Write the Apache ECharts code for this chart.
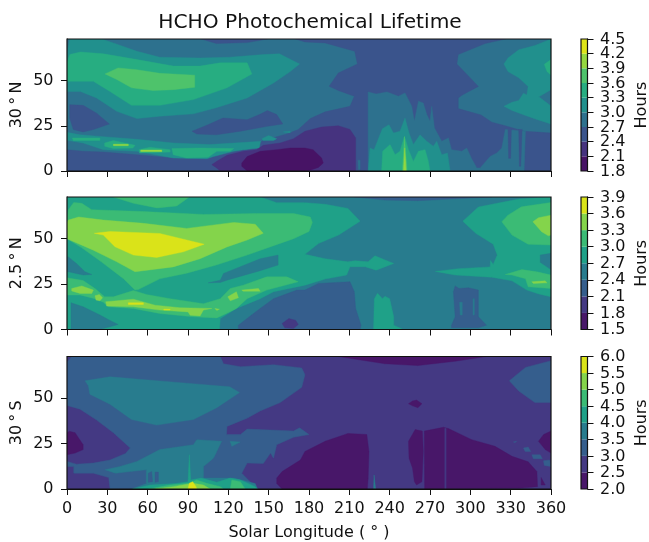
<!DOCTYPE html>
<html><head><meta charset="utf-8">
<style>html,body{margin:0;padding:0;background:#fff}#c{width:649px;height:542px}</style>
<script src="https://cdn.jsdelivr.net/npm/echarts@6/dist/echarts.min.js"></script>
</head><body><div id="c"></div>
<script>
// ---------- axis and level data ----------
const title = "HCHO Photochemical Lifetime";
const xLabel = "Solar Longitude ( ° )";
const colorbarLabel = "Hours";
const panelNames = ["30\u2009°\u2009N", "2.5\u2009°\u2009N", "30\u2009°\u2009S"];
const yTicks = [0, 25, 50];
const xInterval = 30;
const xMax = 360;
const yMax = 73;
const levels1 = [1.8, 2.1, 2.4, 2.7, 3.0, 3.3, 3.6, 3.9, 4.2, 4.5];
const levels2 = [1.5, 1.8, 2.1, 2.4, 2.7, 3.0, 3.3, 3.6, 3.9];
const levels3 = [2.0, 2.5, 3.0, 3.5, 4.0, 4.5, 5.0, 5.5, 6.0];
const colors9 = ["#471365", "#46337f", "#3a548c", "#2d718e", "#21908d", "#27ad81", "#4ec36b", "#95d840", "#dde318"];
const colors8 = ["#481769", "#443983", "#355e8d", "#287c8e", "#1fa188", "#3bbb75", "#84d44b", "#dae319"];

// ---------- contour bands: [solar longitude, altitude] ----------
// Panel 1 (30 N)
const a_c2_main = [[170,73],[326,73],[311,70.5],[291,64.4],[290,59.2],[306,46.8],[294,42],[291,40.4],[291,34.5],[308,31],[316,27],[326,25],[340,22],[350,21.5],[360,21],[360,0],[0,0],[0,11.8],[12,10.9],[27,10.5],[52,9],[79,7.2],[104,6.8],[121,11],[134,11.8],[146,16.8],[163.5,20.5],[172,22.9],[181,29],[192,32.7],[210.5,35.8],[213.7,41.3],[201.8,44.5],[195,46.9],[201.8,54.2],[216,59.2],[214,66.2],[192,70.8],[177,71.4]];
const a_c2_sliver = [[100,73],[111,70.5],[134,71],[149,73]];
const a_c2_blobL = [[2,36.7],[12,36.3],[22,32],[31.5,26],[19.6,22.9],[12,21.6],[4.7,22.9],[2,29.3]];
const a_c2_blobC = [[93,22],[104,25.3],[116,29.3],[134,28.4],[144,31.5],[149,33.4],[156,31.2],[160.5,26],[149,24.7],[129,22],[111,20],[96.5,20.5]];
const a_c4_upper = [[2,73],[26,73],[34.5,70.8],[52,66.2],[69,62.9],[99,62.5],[121,62.9],[146,64.4],[158,64.8],[173,59.2],[166,55],[153.6,48.7],[134,40.4],[111,35],[94,31.6],[69,30.3],[52,29],[37,33],[22,40.4],[10,44],[0,44],[0,65]];
const a_c5_upper = [[2,64.4],[10,65.8],[27,64.8],[52,61.6],[79,58],[99,58],[114,59.8],[134,59.8],[137.5,53.7],[119,46],[94,39.5],[69,36.3],[48,36.3],[32,44],[19.6,49.6],[0,49.6],[0,60]];
const a_c6_upper = [[28.3,53.7],[38,57],[52,56],[69,54],[95,53],[95,46.3],[79,45],[64,44.5],[48,46],[37,50.6]];
const a_c4_band = [[0,21.4],[9.7,20],[27,19],[52,17.5],[79,15.5],[106,14.6],[136,16],[144,16.5],[143,12.7],[131,11.8],[124,10.9],[109,8],[104,6.8],[79,7.2],[52,10.9],[27,11.8],[12,15.5],[0,17]];
const a_c4_spotA = [[145,17.9],[150,19.6],[156,17.9],[153.6,16.8],[146,16.8]];
const a_c4_spotB = [[161,21.6],[166,22],[166,21.2]];
const a_c5_patchA = [[28,15.5],[34.5,16.8],[50.6,14.2],[49,12.7],[34.5,12.4],[28,13.7]];
const a_c5_patchL = [[4,18.3],[24.5,18.3],[24.5,16.8],[4.7,16.8]];
const a_c5_patchB = [[53.6,11.8],[61.8,13.1],[76.7,11.8],[76.7,10.5],[54,10]];
const a_c5_patchC = [[78,12.4],[99,12.7],[124,12.4],[121.4,10.9],[111.4,10.9],[105,7.6],[89,7.2],[79,9]];
const a_c6_tinyA = [[34.5,14.8],[45.6,14.8],[45.6,14],[34.5,14]];
const a_c6_tinyB = [[54.8,11.6],[70.5,11.6],[70.5,10.7],[54.8,10.7]];
const a_c1 = [[114,0],[111.4,1.7],[107.7,3.5],[111.4,5.4],[119,8.7],[131,10.9],[141,11.8],[146,14.2],[158.6,15.5],[168.5,17.9],[177,22],[189.4,24.3],[201.8,25],[210.5,23],[214.7,18.3],[214.7,0]];
const a_c0 = [[130,4.4],[134,8],[143.7,10.9],[156,11.8],[166,12.7],[177,12.7],[183,11.8],[189.4,7.2],[190.6,4.4],[187,2],[182,0.7],[177,0],[134,0],[130,2.6]];
const a_c3_spikes = [[224,0],[224,43.7],[230,42.6],[238,43.7],[246.5,41.3],[251.4,43.2],[256.4,35.8],[258.4,27.5],[261.4,38.6],[265,37.6],[267.6,31.2],[270,27.5],[271.3,35.8],[273.3,23.8],[278.7,16.4],[283.7,18.3],[286,11.8],[293.6,10.9],[297.3,12.7],[301,6.8],[304.8,1.7],[307.3,1.7],[314.7,8],[319.7,10],[323.4,12.7],[326,23],[341,22],[340,0]];
const a_c3_spot = [[216.5,6],[218,6],[218,0.8],[216.8,0.8]];
const a_c2_slitA = [[328,23],[330.5,23],[330,7],[328.5,7]];
const a_c2_slitB = [[336,23],[338.5,23],[337.5,2.6],[336.5,2.6]];
const a_c4_spikes = [[224,0],[225.4,12.7],[228.4,11.8],[232.8,20],[234.6,23.4],[239.5,25.6],[242.8,21],[247.7,22],[251.4,29.3],[254.4,21],[257.6,14.6],[262.6,20],[267.6,16.4],[272.5,13.7],[275,16.4],[278.7,9],[283,10],[285,0]];
const a_c5_spikes = [[234,0],[234.8,10.9],[240.3,14.6],[244,9],[247.7,10.9],[251,19.2],[254,11.8],[257.6,5.3],[261.4,10.9],[266.3,11.8],[268.8,5.3],[270,0]];
const a_c6_spike = [[249.5,0],[251,19],[253,0]];
const a_c7_spike = [[250.3,0],[251.2,12.7],[252.2,0]];
const a_c4_right = [[360,73],[348,69.4],[336,67],[328,62.5],[325,59.2],[328,55],[336,51.6],[343,46.8],[342,42],[339.5,43],[336,39],[331,38],[325,35.8],[331,33.5],[340,31],[350,28.4],[360,26],[360,36],[351,41],[360,45]];
const a_c5_right = [[360,61.6],[355,59],[357,55],[360,53]];
const layers1 = [[2,a_c2_main],[2,a_c2_sliver],[2,a_c2_blobL],[2,a_c2_blobC],[4,a_c4_upper],[5,a_c5_upper],[6,a_c6_upper],[4,a_c4_band],[4,a_c4_spotA],[4,a_c4_spotB],[5,a_c5_patchA],[5,a_c5_patchL],[5,a_c5_patchB],[5,a_c5_patchC],[7,a_c6_tinyA],[7,a_c6_tinyB],[1,a_c1],[0,a_c0],[3,a_c3_spikes],[3,a_c3_spot],[2,a_c2_slitA],[2,a_c2_slitB],[4,a_c4_spikes],[5,a_c5_spikes],[6,a_c6_spike],[7,a_c7_spike],[4,a_c4_right],[5,a_c5_right]];

// Panel 2 (2.5 N)
const b_d4_main = [[0,73],[143.7,73],[156,69.9],[177,69.9],[192,69],[209,66.7],[218,59.7],[202,52],[187,47.4],[177,41.4],[192,39],[209,37.3],[214,37.9],[224,37.3],[229,40.6],[243,36.4],[230,32.7],[221.7,34.6],[210.5,34.6],[208,30],[192,27.8],[177,24.4],[153.6,20.8],[143.7,17],[126,11.6],[114,6],[113.4,0],[0,0]];
const b_d4_right = [[360,73],[336,71.9],[306,67.5],[294.4,59.7],[304,53],[317,47],[320,41],[317,35.8],[315,38],[314.7,34.5],[291,33.5],[274,32],[288.7,30],[316,28.8],[331,26.8],[342,21.7],[351,19.6],[360,18]];
const b_d3_blobBL = [[3,14.7],[12,12.5],[24.5,8],[32,5],[38,2.8],[32,1.5],[24.5,0],[3,0]];
const b_d3_blobL = [[0,40],[1,40],[7,36.4],[13.4,31.8],[18.4,30.3],[12,30],[1,31.8],[0,32]];
const b_d3_blobC = [[105,25.7],[114,27.2],[116.4,30.9],[143.7,39],[157,41],[157,35.5],[143.7,32.4],[119,27.2],[114,25.9]];
const b_d3_blobR = [[352,41],[360,42],[360,33],[352,37]];
const b_d2_top = [[214,73],[236.5,71.3],[261,71],[288.7,72],[316,73]];
const b_d5_top = [[34.5,73],[91,73],[81.6,68],[67,67],[49.4,69.5]];
const b_d5_outer = [[0,61],[1,66],[5,70],[11,69.5],[18.4,66],[56.8,65],[101.5,63.4],[141,63.9],[168.5,63.9],[181,62],[182.5,59],[180,54],[168.5,50],[151,45.5],[134,41],[111,35.5],[89,31],[69,27.9],[53,22],[50.6,21.7],[42,28],[26,37],[11,45],[0,50]];
const b_d6_outer = [[0,59],[1,60.3],[8.7,62],[27,60.3],[56.8,58.5],[89,55.7],[124,59],[140,58],[146,53],[134,49.3],[119,45.5],[99,39],[79,34.5],[50.6,31.8],[37,37.3],[19.6,43.7],[0,50]];
const b_d7_core = [[20.3,53],[32,54],[69,52.9],[102,47],[86.6,42.8],[66.7,39.7],[49.4,41],[35.7,45.6],[27,52]];
const b_d5_band = [[0,28.5],[12,27],[20.8,22.6],[28,18],[34.5,18],[49.4,21.5],[59,19.3],[76.7,17],[101.5,14.2],[114,17],[121.4,22.6],[131,24.4],[148.6,29],[163.5,29],[172,26.3],[148.6,21.7],[134,17],[126,11.6],[119,9],[111.4,6.4],[94,7],[69,8.8],[49.4,11.6],[30.8,12.5],[27,15],[20.8,17],[9.7,19],[0,19]];
const b_d5_right = [[360,70],[338,67.6],[328,63],[323.4,59.4],[331,52],[343,47],[360,46.5]];
const b_d6_right = [[360,63],[350.7,61.6],[346.5,59.4],[353,53.9],[358,51.6],[360,52]];
const b_d5_lowR = [[326,30.3],[338.3,33],[349.5,31.8],[360,30],[360,22.6],[343,23.5],[341,28],[331,30]];
const b_d6_lowR = [[345.7,26.3],[355.7,26.8],[357,25.7],[347,25.4]];
const b_d6_a = [[3.5,22.6],[11,24],[19.6,21.7],[18.4,19.9],[9.7,19.9],[3.5,21.2]];
const b_d6_b = [[20.8,18.6],[24,19.3],[26.5,17.5],[24.5,15.8],[21.6,16.2]];
const b_d6_c = [[28.8,15.3],[49.4,16.7],[65.5,13.4],[84,12],[107.7,11.6],[101.5,10.7],[99,7.5],[91.6,7.9],[90,9.7],[69,10.7],[49.4,12.5],[29.5,12.9]];
const b_d6_d = [[110,11.6],[113.4,11.2],[111.4,10.5]];
const b_d6_e = [[119.6,18],[126,20.8],[127.5,17.5],[121.4,15.8]];
const b_d6_f = [[130,21.7],[142.4,22.6],[143.7,21.1],[131,21.1]];
const b_d7_a = [[45.6,14.7],[56.8,14.7],[56.8,13.8],[45.6,13.8]];
const b_d7_b = [[72,11.2],[76.7,11.2],[76.7,10.7],[72,10.7]];
const b_d2_main = [[127.5,2.4],[137.3,8],[143.7,11.6],[153.6,17],[171,21.7],[177,21.7],[187,25.4],[210.5,26.3],[213.7,20.8],[214.7,11.6],[218.7,2.4],[218,0],[127.5,0]];
const b_d1_spot = [[160,3.3],[165,6],[170,5.1],[172,2.8],[168.5,0.5],[162,0.9]];
const b_d4_column = [[228,0],[228.6,17],[231,20],[234.6,17],[236.5,18.3],[240,17],[243,7],[243,2.4],[249,0.4],[249,0]];
const b_d2_column = [[286,2.4],[288.7,7],[287.4,20.8],[288.7,24],[291.6,22.6],[298.6,23],[306,21.7],[306,13.5],[306,7],[312,2.4],[306,0.9],[286,0.9]];
const b_d3_slitA = [[292,15],[294,15],[294,8],[292.5,8]];
const b_d3_slitB = [[302,17],[303,17],[303,8],[302,8]];
const layers2 = [[4,b_d4_main],[4,b_d4_right],[3,b_d3_blobBL],[3,b_d3_blobL],[3,b_d3_blobC],[3,b_d3_blobR],[2,b_d2_top],[5,b_d5_top],[5,b_d5_outer],[6,b_d6_outer],[7,b_d7_core],[5,b_d5_band],[5,b_d5_right],[6,b_d6_right],[5,b_d5_lowR],[6,b_d6_lowR],[6,b_d6_a],[6,b_d6_b],[6,b_d6_c],[6,b_d6_d],[6,b_d6_e],[6,b_d6_f],[7,b_d7_a],[7,b_d7_b],[2,b_d2_main],[1,b_d1_spot],[4,b_d4_column],[2,b_d2_column],[3,b_d3_slitA],[3,b_d3_slitB]];

// Panel 3 (30 S)
const e_e2_main = [[3.5,73],[114,73],[116.4,69],[129,67.4],[153.6,68.5],[174.6,66.7],[177,63],[174.6,56],[158.6,47.6],[143.7,43],[134,39],[119,34.5],[118.7,30],[129,30],[134,33],[168.5,32],[173,33.7],[180,30],[168.5,28.5],[156,24.4],[153.6,17],[151.4,19.8],[146,14],[134,14.3],[130,8.7],[141,0.4],[32,0],[31,6.3],[19.6,8.7],[5,8.7],[5,12.4],[0,12.4],[0,15.2],[7,13.7],[19.6,14.3],[32,16],[43.5,19.6],[47,22.6],[34.5,31],[22,38],[9.7,44],[0,46],[0,70]];
const e_e2_right = [[360,70.7],[341,67],[329,59.6],[336,54],[348,47.6],[360,47.6]];
const e_e2_spotA = [[339.5,22.6],[343,23.1],[345,20.7],[340.8,20.7]];
const e_e2_spotB = [[345.7,18.9],[352,18.9],[353.6,16.7],[346.9,16.7]];
const e_e2_spotC = [[354.4,15.6],[359,16],[360,12.4],[355,13]];
const e_e2_spotD = [[332,25.9],[334.5,26.3],[333.3,25.6]];
const e_e3_upper = [[13.4,59.6],[32,61.8],[89,58.3],[121,56.3],[128.3,53.1],[111.4,44.8],[94,38.3],[66.7,35.2],[48,38.3],[32,46.7],[17,52.2],[15.9,56.9]];
const e_e3_lower = [[28.3,10.6],[39.4,12.4],[52,15.2],[69,21.7],[94,24.4],[96.5,27.2],[115,26.3],[111.4,20.7],[109,17],[101.5,12.4],[101.5,6],[124,6],[140,3],[141.7,0],[48,0],[59,3],[59,10.6],[47,9.6],[36,8.7]];
const e_e2_slitA = [[60.5,8.7],[63,9.6],[63.7,4],[60.5,3.7]];
const e_e2_slitB = [[65.5,9.3],[68,9.3],[68,4],[65.5,3.7]];
const e_e3_tick = [[121.3,26.3],[128.8,25.9],[122.6,23.5]];
const e_e3_spike = [[228,0],[228.4,7.8],[229.6,0]];
const e_e4 = [[49,0],[61.8,2.2],[80.4,3],[90,4],[91,18.9],[92,5],[100,6],[111.4,3.7],[121.4,6],[129,5],[140,1.3],[141.7,0]];
const e_e5a = [[60.5,0],[76.7,2.2],[90,3.1],[96.5,5],[104,3.1],[114,1.3],[116.4,0]];
const e_e5b = [[121.4,0],[122.6,5],[129,4],[132.5,0]];
const e_e6 = [[65.5,0],[79,1.3],[89,2.6],[94,3.1],[101.5,2.2],[106.5,0]];
const e_e7 = [[90,0],[91,3.1],[93.5,4],[96,1.3],[96.5,0]];
const e_e0_left = [[0,31],[1.7,31.8],[6,31],[12,24.4],[12,21.7],[6,19.8],[0,18.9]];
const e_e0_mid = [[156,3],[156,6],[160,9.6],[173.6,16],[177,20.7],[192,26.3],[209,30.6],[223,30],[224.6,20.7],[224,6],[223.4,0],[160,0]];
const e_e0_split = [[254,26.3],[259,32.8],[264.3,31.9],[265,20.7],[264,4],[260,2.2],[258.4,4],[257,11.5],[254.4,17]];
const e_e0_wide = [[265.8,31.9],[280,34],[283.7,33.3],[301,27.2],[318.4,23.5],[331,18],[343,15],[349.5,9.6],[350,1.3],[336,0.4],[266,0]];
const e_e1_slit = [[281,33.5],[282,33.5],[282,0],[281,0]];
const e_e0_right = [[350.7,26.3],[354.5,30],[360,31.9],[360,19.8],[355.7,21.7]];
const e_e0_corner = [[352.7,6.3],[355.7,2.2],[352.7,2.2]];
const e_e0_top = [[201.8,73],[236.5,69],[261,68],[288.7,70.4],[312,73]];
const e_e0_diamond = [[254,47],[257,48.5],[260,49],[264,47],[261,44.8],[257,45.8]];
const layers3 = [[2,e_e2_main],[2,e_e2_right],[2,e_e2_spotA],[2,e_e2_spotB],[2,e_e2_spotC],[2,e_e2_spotD],[3,e_e3_upper],[3,e_e3_lower],[2,e_e2_slitA],[2,e_e2_slitB],[3,e_e3_tick],[3,e_e3_spike],[4,e_e4],[5,e_e5a],[5,e_e5b],[6,e_e6],[7,e_e7],[0,e_e0_left],[0,e_e0_mid],[0,e_e0_split],[0,e_e0_wide],[1,e_e1_slit],[0,e_e0_right],[0,e_e0_corner],[0,e_e0_top],[0,e_e0_diamond]];

// ---------- chart ----------
const FONT = "DejaVu Sans";
const FS = 16;
const INK = "#111";
const panels = [
  {top: 39,  h: 132, base: 3, layers: layers1, levels: levels1, colors: colors9, interval: 0.3},
  {top: 197, h: 132.5, base: 3, layers: layers2, levels: levels2, colors: colors8, interval: 0.3},
  {top: 356.5, h: 132.5, base: 1, layers: layers3, levels: levels3, colors: colors8, interval: 0.5}
];
const grid = [], xAxis = [], yAxis = [], series = [];
panels.forEach((p, i) => {
  const g = 2 * i, cb = 2 * i + 1;
  grid.push({left: 67, width: 484, top: p.top, height: p.h, outerBoundsMode: "none"});
  grid.push({left: 581, width: 6.5, top: p.top, height: p.h, outerBoundsMode: "none"});
  xAxis.push({
    gridIndex: g, type: "value", min: 0, max: xMax, interval: xInterval,
    splitLine: {show: false},
    axisLine: {show: true, onZero: false, lineStyle: {color: INK, width: 1}},
    axisTick: {show: true, length: 6, lineStyle: {color: INK, width: 1}},
    axisLabel: {show: i === 2, color: INK, fontFamily: FONT, fontSize: FS, margin: 11.5, hideOverlap: false},
    name: i === 2 ? xLabel : "", nameLocation: "middle", nameGap: 36, nameMoveOverlap: false,
    nameTextStyle: {color: INK, fontFamily: FONT, fontSize: FS}
  });
  xAxis.push({gridIndex: cb, type: "value", min: 0, max: 1, show: false});
  yAxis.push({
    gridIndex: g, type: "value", min: 0, max: yMax,
    splitLine: {show: false},
    axisLine: {show: true, onZero: false, lineStyle: {color: INK, width: 1}},
    axisTick: {show: true, length: 6, customValues: yTicks, lineStyle: {color: INK, width: 1}},
    axisLabel: {color: INK, fontFamily: FONT, fontSize: FS, margin: 13.5, customValues: yTicks},
    name: panelNames[i], nameLocation: "middle", nameRotate: 90, nameGap: 42, nameMoveOverlap: false,
    nameTextStyle: {color: INK, fontFamily: FONT, fontSize: FS}
  });
  yAxis.push({
    gridIndex: cb, type: "value", position: "right",
    min: p.levels[0], max: p.levels[p.levels.length - 1], interval: p.interval,
    splitLine: {show: false},
    axisLine: {show: true, onZero: false, lineStyle: {color: INK, width: 1}},
    axisTick: {show: true, length: 6, lineStyle: {color: INK, width: 1}},
    axisLabel: {show: false},
    name: colorbarLabel, nameLocation: "middle", nameRotate: 90, nameGap: 46,
    nameTextStyle: {color: INK, fontFamily: FONT, fontSize: FS}
  });
  // filled contour bands, painted in order over a base band
  const all = [[p.base, [[0,0],[xMax,0],[xMax,yMax],[0,yMax]]]].concat(p.layers);
  series.push({
    type: "custom", xAxisIndex: g, yAxisIndex: g, coordinateSystem: "cartesian2d", silent: true, clip: true,
    data: all.map((l, k) => [l[1][0][0], l[1][0][1], k]),
    renderItem: (params, api) => {
      const l = all[params.dataIndex];
      const c = p.colors[l[0]];
      return {type: "polygon", shape: {points: l[1].map(pt => api.coord(pt))},
              style: {fill: c, stroke: c, lineWidth: 0.4}};
    },
    z: 2
  });
  // axes frame on top of the bands
  series.push({
    type: "custom", xAxisIndex: g, yAxisIndex: g, coordinateSystem: "cartesian2d", silent: true, clip: false,
    data: [[0, 0]],
    renderItem: (params, api) => {
      const a = api.coord([0, 0]), b = api.coord([xMax, yMax]);
      return {type: "rect", shape: {x: a[0], y: b[1], width: b[0] - a[0], height: a[1] - b[1]},
              style: {fill: "none", stroke: INK, lineWidth: 1.2}};
    },
    z: 5
  });
  // colour bar
  const bands = p.colors.map((c, k) => [p.levels[k], p.levels[k + 1], k]);
  series.push({
    type: "custom", xAxisIndex: cb, yAxisIndex: cb, coordinateSystem: "cartesian2d", silent: true,
    data: bands,
    renderItem: (params, api) => {
      const a = api.coord([0, api.value(0)]), b = api.coord([1, api.value(1)]);
      return {type: "rect", shape: {x: a[0], y: b[1], width: b[0] - a[0], height: a[1] - b[1]},
              style: {fill: p.colors[api.value(2)]}};
    },
    encode: {x: [], y: [0, 1]},
    z: 2
  });
  series.push({
    type: "custom", xAxisIndex: cb, yAxisIndex: cb, coordinateSystem: "cartesian2d", silent: true,
    data: [[0, p.levels[0]]],
    renderItem: (params, api) => {
      const a = api.coord([0, p.levels[0]]), b = api.coord([1, p.levels[p.levels.length - 1]]);
      return {type: "rect", shape: {x: a[0], y: b[1], width: b[0] - a[0], height: a[1] - b[1]},
              style: {fill: "none", stroke: INK, lineWidth: 1.2}};
    },
    z: 5
  });
  // colour bar tick labels: the levels overlap slightly, as in the reference, so all are drawn
  series.push({
    type: "custom", xAxisIndex: cb, yAxisIndex: cb, coordinateSystem: "cartesian2d", silent: true, clip: false,
    data: p.levels.map(v => [1, v]),
    renderItem: (params, api) => {
      const c = api.coord([1, api.value(1)]);
      return {type: "text", style: {text: Number(api.value(1)).toFixed(1), x: c[0] + 12.5, y: c[1] + 0.5,
              fill: INK, fontFamily: FONT, fontSize: FS, align: "left", verticalAlign: "middle"}};
    },
    z: 6
  });
});
const chart = echarts.init(document.getElementById("c"), null, {renderer: "canvas"});
chart.setOption({
  animation: false,
  backgroundColor: "#fff",
  title: {text: title, left: 305, top: 8, textAlign: "center",
          textStyle: {color: INK, fontFamily: FONT, fontSize: 20.2, fontWeight: "normal"}},
  grid, xAxis, yAxis, series
});
</script></body></html>
